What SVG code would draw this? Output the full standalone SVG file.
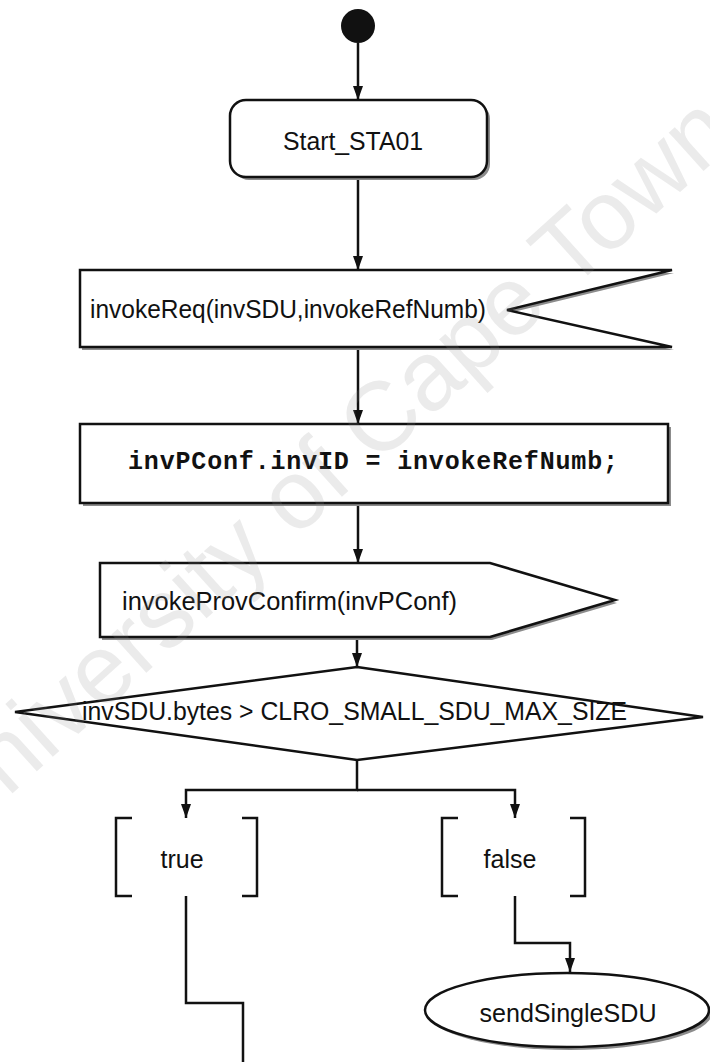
<svg xmlns="http://www.w3.org/2000/svg" width="710" height="1062" viewBox="0 0 710 1062">
<defs>
<marker id="ah" markerUnits="userSpaceOnUse" markerWidth="14" markerHeight="12" refX="14" refY="6" orient="auto"><path d="M0,1 L14,6 L0,11 Z" fill="#111"/></marker>
</defs>
<style>
.sh{fill:#8c8c8c;stroke:none}
.box{fill:#fff;stroke:#111;stroke-width:2.5}
.t{font-family:"Liberation Sans",Arial,sans-serif;font-size:25px;fill:#111}
.m{font-family:"Liberation Mono","Courier New",monospace;font-size:25px;font-weight:bold;fill:#111}
.c{fill:none;stroke:#111;stroke-width:2.5}
.br{fill:none;stroke:#111;stroke-width:2.5}
.wm{font-family:"Liberation Sans",Arial,sans-serif;font-size:98px;fill:#888;fill-opacity:0.17}
</style>
<rect width="710" height="1062" fill="#fff"/>

<g id="connectors">
<path class="c" d="M358,43 V100" marker-end="url(#ah)"/>
<path class="c" d="M358,177 V270" marker-end="url(#ah)"/>
<path class="c" d="M358,347 V424" marker-end="url(#ah)"/>
<path class="c" d="M358,503 V563" marker-end="url(#ah)"/>
<path class="c" d="M357,637 V667" marker-end="url(#ah)"/>
<path class="c" d="M357,760 V790 H186 V818" marker-end="url(#ah)"/>
<path class="c" d="M357,790 H515 V818" marker-end="url(#ah)"/>
<path class="c" d="M186,896 V1003 H243 V1062"/>
<path class="c" d="M515,896 V943 H570 V972" marker-end="url(#ah)"/>
</g>

<g id="initial">
<circle cx="358" cy="26" r="17" fill="#111"/>
</g>

<g id="start">
<rect class="sh" x="233" y="103" width="257" height="77" rx="16"/>
<rect class="box" x="230" y="100" width="257" height="77" rx="16"/>
<text class="t" x="353" y="150" text-anchor="middle" textLength="140" lengthAdjust="spacingAndGlyphs">Start_STA01</text>
</g>

<g id="invokeReq">
<polygon class="sh" points="82,273 674,273 509,313 674,350 82,350"/>
<polygon class="box" points="80,270 672,270 507,310 672,347 80,347"/>
<text class="t" x="90" y="318" textLength="396" lengthAdjust="spacingAndGlyphs">invokeReq(invSDU,invokeRefNumb)</text>
</g>

<g id="assign">
<rect class="sh" x="83" y="427" width="588" height="79"/>
<rect class="box" x="80" y="424" width="588" height="79"/>
<text class="m" x="128" y="469" textLength="490" lengthAdjust="spacing">invPConf.invID = invokeRefNumb;</text>
</g>

<g id="provConfirm">
<polygon class="sh" points="102,566 492,566 617,603 492,640 102,640"/>
<polygon class="box" points="100,563 490,563 615,600 490,637 100,637"/>
<text class="t" x="122" y="610" textLength="335" lengthAdjust="spacingAndGlyphs">invokeProvConfirm(invPConf)</text>
</g>

<g id="decision">
<polygon class="box" points="357,667 703,717 357,760 15,712"/>
<text class="t" x="82" y="720" textLength="545" lengthAdjust="spacingAndGlyphs">invSDU.bytes &gt; CLRO_SMALL_SDU_MAX_SIZE</text>
</g>

<g id="guardTrue">
<path class="br" d="M132,818 H116 V896 H132 M242,818 H257 V896 H242"/>
<text class="t" x="182" y="868" text-anchor="middle">true</text>
</g>

<g id="guardFalse">
<path class="br" d="M458,818 H442 V896 H458 M570,818 H585 V896 H570"/>
<text class="t" x="510" y="868" text-anchor="middle">false</text>
</g>

<g id="sendSingleSDU">
<ellipse class="sh" cx="570" cy="1013" rx="142" ry="37"/>
<ellipse class="box" cx="567" cy="1010" rx="142" ry="37"/>
<text class="t" x="568" y="1022" text-anchor="middle" textLength="177" lengthAdjust="spacingAndGlyphs">sendSingleSDU</text>
</g>

<text class="wm" transform="translate(-45,845) rotate(-42)">University of Cape Town</text>
</svg>
